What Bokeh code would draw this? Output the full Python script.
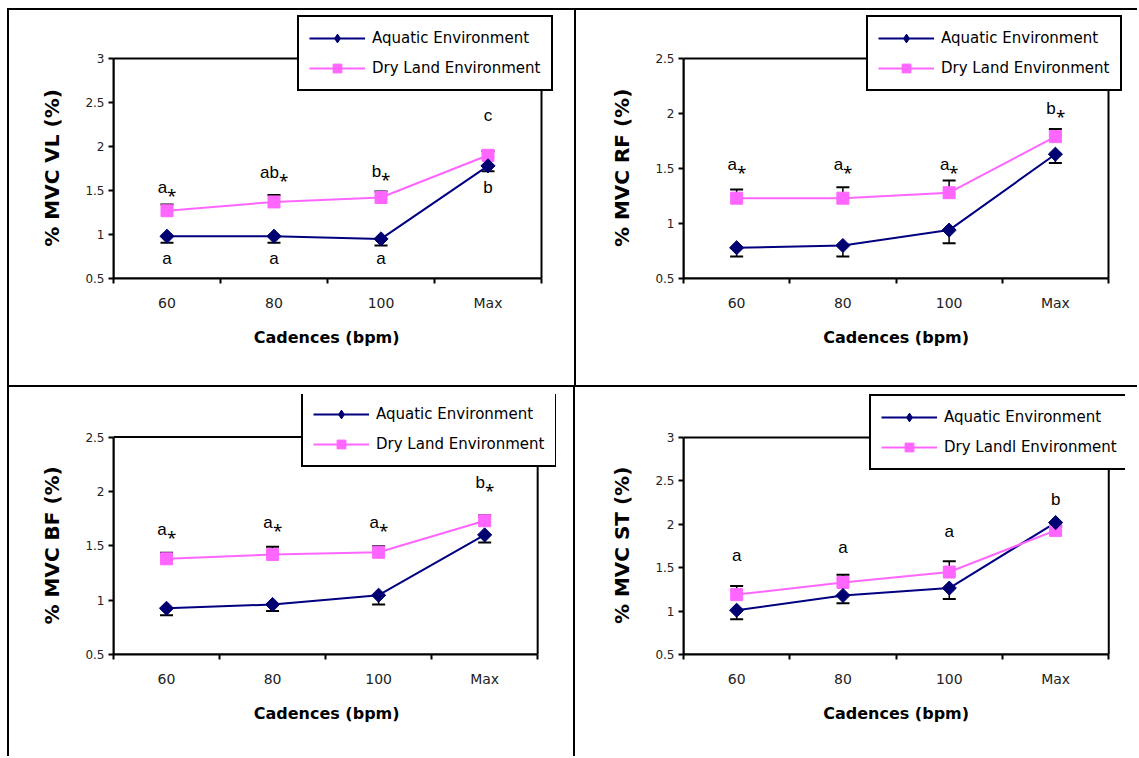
import numpy as np
from bokeh.plotting import figure
from bokeh.models import (Range1d, FixedTicker, NumeralTickFormatter, Legend, LegendItem,
                          ColumnDataSource, Whisker, TeeHead)
from bokeh.layouts import gridplot
from bokeh.core.properties import value
from bokeh.embed import file_html
from bokeh.resources import INLINE

# ---------------- data ----------------
cadences = ["60", "80", "100", "Max"]

vl_aquatic = [0.98, 0.98, 0.95, 1.78]
vl_aquatic_err = [0.075, 0.075, 0.075, 0.06]
vl_dry = [1.27, 1.37, 1.42, 1.90]
vl_dry_err = [0.07, 0.08, 0.07, 0.05]
vl_top_labels = ["a⁎", "ab⁎", "b⁎", "c"]
vl_top_y = [1.53, 1.70, 1.72, 2.35]
vl_bottom_labels = ["a", "a", "a", "b"]
vl_bottom_y = [0.73, 0.73, 0.73, 1.53]

rf_aquatic = [0.78, 0.80, 0.94, 1.63]
rf_aquatic_err = [0.08, 0.10, 0.12, 0.08]
rf_dry = [1.23, 1.23, 1.28, 1.79]
rf_dry_err = [0.08, 0.10, 0.11, 0.07]
rf_top_labels = ["a⁎", "a⁎", "a⁎", "b⁎"]
rf_top_y = [1.54, 1.54, 1.54, 2.05]

bf_aquatic = [0.925, 0.96, 1.045, 1.60]
bf_aquatic_err = [0.065, 0.06, 0.085, 0.07]
bf_dry = [1.38, 1.42, 1.44, 1.73]
bf_dry_err = [0.055, 0.07, 0.055, 0.05]
bf_top_labels = ["a⁎", "a⁎", "a⁎", "b⁎"]
bf_top_y = [1.645, 1.71, 1.71, 2.08]

st_aquatic = [1.01, 1.18, 1.265, 2.02]
st_aquatic_err = [0.105, 0.09, 0.125, 0.04]
st_dry = [1.19, 1.33, 1.45, 1.93]
st_dry_err = [0.10, 0.09, 0.125, 0.04]
st_top_labels = ["a", "a", "a", "b"]
st_top_y = [1.64, 1.73, 1.92, 2.29]

aquatic_name = "Aquatic Environment"
dry_name = "Dry Land Environment"
dry_name_st = "Dry Landl Environment"
x_title = "Cadences (bpm)"

NAVY = "#000080"
NAVY_MARK = "#000070"
PINK = "#FF66FF"
NBSP = "\u00a0"


def border_css(lines):
    """lines: list of (x, y, w, h) css strings for thin black panel rules."""
    imgs = ", ".join(["linear-gradient(#000, #000)"] * len(lines))
    pos = ", ".join(f"{x} {y}" for x, y, w, h in lines)
    size = ", ".join(f"{w} {h}" for x, y, w, h in lines)
    return {"background-image": imgs, "background-position": pos,
            "background-size": size, "background-repeat": "no-repeat"}


def make_panel(width, height, box, frame_top, frame_right, ymax, ylabel,
               aq, aq_err, dry, dry_err, top_labels, top_y, bottom_labels, bottom_y,
               dry_label, legend_xy, rules, ypad=6, xpad=3):
    bl, br, bt, bb = box  # pixel box of the drawn plot area (axes box)
    n = len(cadences)
    # the frame is a bit larger than the axes box so that the legend box,
    # which overlaps the axes box edge, is not clipped
    x_end = n * (frame_right - bl) / (br - bl)
    y_end = ymax + (bt - frame_top) * (ymax - 0.5) / (bb - bt)
    p = figure(width=width, height=height, output_backend="svg", toolbar_location=None,
               x_range=Range1d(0, x_end), y_range=Range1d(0.5, y_end),
               min_border_left=bl, min_border_right=width - frame_right,
               min_border_top=frame_top, min_border_bottom=height - bb,
               background_fill_color=None, border_fill_color=None,
               styles=border_css(rules))
    p.xgrid.visible = False
    p.ygrid.visible = False
    p.outline_line_color = None

    xs = [i + 0.5 for i in range(n)]

    # axes box (top and right edges; left/bottom come from the axes)
    p.quad(left=[0], right=[n], bottom=[0.5], top=[ymax], fill_color=None,
           line_color="black", line_width=2)

    # x axis: labels at centres, ticks at category boundaries
    p.xaxis.bounds = (0, n)
    p.xaxis.ticker = FixedTicker(ticks=xs, minor_ticks=list(range(n + 1)))
    p.xaxis.major_label_overrides = {x: c for x, c in zip(xs, cadences)}
    p.xaxis.major_tick_out = 0
    p.xaxis.major_tick_in = 0
    p.xaxis.minor_tick_out = 5
    p.xaxis.minor_tick_in = 0
    p.xaxis.minor_tick_line_color = "black"
    p.xaxis.minor_tick_line_width = 2
    p.xaxis.major_label_text_font = "DejaVu Sans"
    p.xaxis.major_label_text_font_size = "14px"
    p.xaxis.major_label_text_color = "#222222"
    p.xaxis.major_label_standoff = 11
    p.xaxis.axis_label = x_title + NBSP * xpad
    p.xaxis.axis_label_text_font = "DejaVu Sans"
    p.xaxis.axis_label_text_font_size = "16px"
    p.xaxis.axis_label_text_font_style = "bold"
    p.xaxis.axis_label_text_color = "black"
    p.xaxis.axis_label_standoff = 14

    yticks = [0.5 + 0.5 * i for i in range(int(round((ymax - 0.5) / 0.5)) + 1)]
    p.yaxis.bounds = (0.5, ymax)
    p.yaxis.ticker = FixedTicker(ticks=yticks)
    p.yaxis.formatter = NumeralTickFormatter(format="0.[0]")
    p.yaxis.major_tick_out = 5
    p.yaxis.major_tick_in = 0
    p.yaxis.major_tick_line_width = 2
    p.yaxis.minor_tick_line_color = None
    p.yaxis.major_label_text_font = "DejaVu Sans"
    p.yaxis.major_label_text_font_size = "12px"
    p.yaxis.major_label_text_color = "#222222"
    p.yaxis.major_label_standoff = 4
    p.yaxis.axis_label = ylabel + NBSP * ypad
    p.yaxis.axis_label_text_font = "DejaVu Sans"
    p.yaxis.axis_label_text_font_size = "20px"
    p.yaxis.axis_label_text_font_style = "bold"
    p.yaxis.axis_label_text_color = "black"
    p.yaxis.axis_label_standoff = 18

    for ax in (p.xaxis, p.yaxis):
        ax.axis_line_color = "black"
        ax.axis_line_width = 2

    # error bars (aquatic downward, dry land upward), drawn beneath the markers
    aq_src = ColumnDataSource(dict(x=xs, y=aq, lo=[a - e for a, e in zip(aq, aq_err)]))
    dry_src = ColumnDataSource(dict(x=xs, y=dry, hi=[d + e for d, e in zip(dry, dry_err)]))
    p.add_layout(Whisker(source=aq_src, base="x", upper="y", lower="lo", upper_head=None,
                         lower_head=TeeHead(size=13, line_width=2, line_color="black"),
                         line_width=1.5, line_color="black", level="underlay"))
    p.add_layout(Whisker(source=dry_src, base="x", upper="hi", lower="y", lower_head=None,
                         upper_head=TeeHead(size=13, line_width=2, line_color="black"),
                         line_width=1.5, line_color="black", level="underlay"))

    r_aq_line = p.line(xs, aq, line_color=NAVY, line_width=2)
    r_aq_leg = p.scatter(xs, aq, marker="diamond", size=8, color=NAVY_MARK)
    r_dry_line = p.line(xs, dry, line_color=PINK, line_width=2)
    r_dry = p.scatter(xs, dry, marker="square", size=12, color=PINK)
    p.scatter(xs, aq, marker="square", angle=np.pi / 4, size=10, color=NAVY_MARK)

    p.text(x=xs, y=top_y, text=top_labels, text_font=value("Liberation Sans"),
           text_font_size="17px", text_align="center", text_baseline="middle", text_color="black")
    if bottom_labels:
        p.text(x=xs, y=bottom_y, text=bottom_labels, text_font=value("Liberation Sans"),
               text_font_size="17px", text_align="center", text_baseline="middle", text_color="black")

    legend = Legend(items=[LegendItem(label=aquatic_name, renderers=[r_aq_line, r_aq_leg]),
                           LegendItem(label=dry_label, renderers=[r_dry_line, r_dry])],
                    location=legend_xy, orientation="vertical",
                    label_text_font="DejaVu Sans", label_text_font_size="15px",
                    label_text_color="black", glyph_width=56, glyph_height=22,
                    label_height=20, label_standoff=7, padding=10, spacing=8, margin=0,
                    border_line_color="black", border_line_width=2, border_line_alpha=1.0,
                    background_fill_color="white", background_fill_alpha=1)
    p.add_layout(legend)
    return p


p1 = make_panel(575, 386, (113, 541, 58, 278), 15, 556, 3.0, "% MVC VL (%)",
                vl_aquatic, vl_aquatic_err, vl_dry, vl_dry_err,
                vl_top_labels, vl_top_y, vl_bottom_labels, vl_bottom_y, dry_name,
                (184, 187),
                [("7px", "8px", "2px", "100%"), ("7px", "8px", "100%", "2px"),
                 ("574px", "8px", "1px", "100%"), ("7px", "385px", "100%", "1px")])
p2 = make_panel(562, 386, (108, 533, 58, 278), 15, 550, 2.5, "% MVC RF (%)",
                rf_aquatic, rf_aquatic_err, rf_dry, rf_dry_err,
                rf_top_labels, rf_top_y, None, None, dry_name,
                (183, 187),
                [("0px", "8px", "100%", "2px"), ("0px", "8px", "1px", "100%"),
                 ("0px", "385px", "100%", "1px")])
p3 = make_panel(575, 370, (113, 541, 51, 271), 8, 560, 2.5, "% MVC BF (%)",
                bf_aquatic, bf_aquatic_err, bf_dry, bf_dry_err,
                bf_top_labels, bf_top_y, None, None, dry_name,
                (188, 187),
                [("7px", "0px", "2px", "100%"), ("7px", "0px", "100%", "1px"),
                 ("573px", "0px", "2px", "100%")])
p4 = make_panel(562, 370, (105, 537, 51, 268), 8, 554, 3.0, "% MVC ST (%)",
                st_aquatic, st_aquatic_err, st_dry, st_dry_err,
                st_top_labels, st_top_y, None, None, dry_name_st,
                (186, 184),
                [("0px", "0px", "100%", "1px")])

grid = gridplot([[p1, p2], [p3, p4]], toolbar_location=None)

open("out.html", "w").write(file_html(grid, INLINE))
